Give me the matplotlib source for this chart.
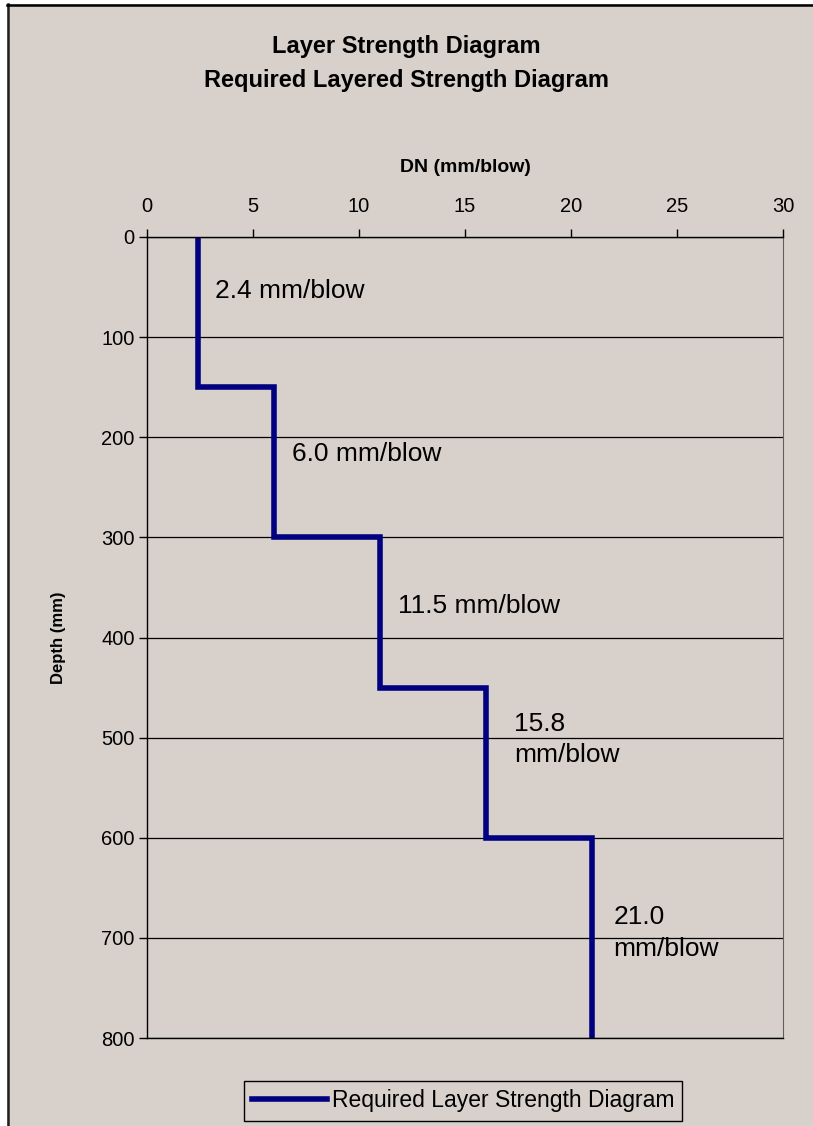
import matplotlib
matplotlib.use("Agg")
import matplotlib.pyplot as plt
from matplotlib.lines import Line2D
from matplotlib.patches import Rectangle

# données
profondeur = [0, 150, 150, 300, 300, 450, 450, 600, 600, 800]
dn = [2.4, 2.4, 6.0, 6.0, 11.0, 11.0, 16.0, 16.0, 21.0, 21.0]

etiquettes = ["2.4 mm/blow", "6.0 mm/blow", "11.5 mm/blow", "15.8\nmm/blow", "21.0\nmm/blow"]
etiq_x = [3.2, 6.85, 11.85, 17.3, 22.0]
etiq_y = [54, 217, 369, 502, 695]

fond = "#D8D0CA"
bleu = "#000080"
W, H = 813, 1126

plt.rcParams["font.family"] = ["Liberation Sans", "DejaVu Sans"]

fig = plt.figure(figsize=(W/100, H/100), dpi=100, facecolor="white")

# fond beige + cadre (bord gauche et haut)
fig.add_artist(Rectangle((7/W, 0), 1, 1 - 4/H, transform=fig.transFigure,
                         facecolor=fond, edgecolor="none", zorder=-10))
fig.add_artist(Line2D([8/W, 8/W], [0, 1 - 4/H], transform=fig.transFigure, color="#202020", lw=1.8))
fig.add_artist(Line2D([7/W, 1], [1 - 5/H, 1 - 5/H], transform=fig.transFigure, color="black", lw=1.8))

ax = fig.add_axes([147/W, 1 - 1038/H, (783 - 147)/W, (1038 - 237)/H])
ax.set_facecolor(fond)

ax.plot(dn, profondeur, color=bleu, linewidth=4, solid_joinstyle="miter",
        label="Required Layer Strength Diagram")

for txt, x, y in zip(etiquettes, etiq_x, etiq_y):
    ax.text(x, y, txt, fontsize=19, va="center", ha="left", linespacing=1.4)

ax.set_xlim(0, 30)
ax.set_ylim(800, 0)
ax.set_xticks(range(0, 31, 5))
ax.set_yticks(range(0, 801, 100))
ax.xaxis.tick_top()
ax.xaxis.set_label_position("top")
ax.tick_params(axis="both", labelsize=14.5, direction="out", length=6, width=1, color="black")
ax.tick_params(axis="x", pad=9)
ax.tick_params(axis="y", pad=3)
ax.yaxis.grid(True, color="black", linewidth=0.9)
ax.set_axisbelow(True)

ax.set_xlabel("DN (mm/blow)", fontsize=14, fontweight="bold", labelpad=18)
ax.set_ylabel("Depth (mm)", fontsize=12, fontweight="bold", labelpad=25)

for s in ["top", "bottom", "left"]:
    ax.spines[s].set_color("black")
    ax.spines[s].set_linewidth(1.0)
ax.spines["right"].set_color("#606060")

fig.text(0.5, 1 - 46/H, "Layer Strength Diagram", ha="center", va="center",
         fontsize=17, fontweight="bold")
fig.text(0.5, 1 - 80/H, "Required Layered Strength Diagram", ha="center", va="center",
         fontsize=17, fontweight="bold")

leg = fig.legend(loc="center", bbox_to_anchor=(463/W, 1 - 1101/H), fontsize=16.5,
                 frameon=True, fancybox=False, edgecolor="black", facecolor=fond,
                 handlelength=3.3, handletextpad=0.2, borderpad=0.35, borderaxespad=0,
                 framealpha=1)
leg.get_frame().set_linewidth(1.0)

fig.savefig("out.png", dpi=100, facecolor="white")
